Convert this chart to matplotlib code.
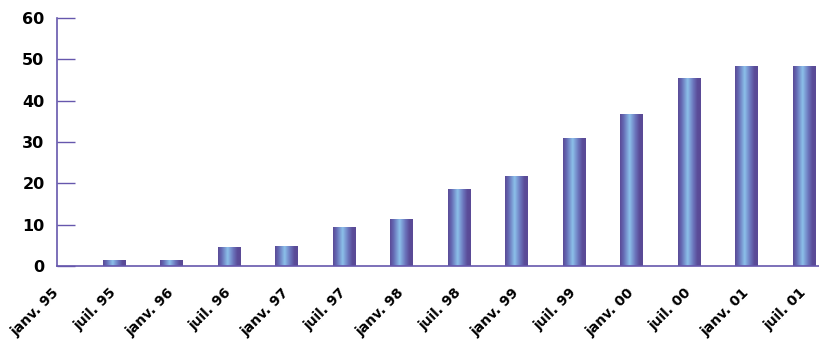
import matplotlib
matplotlib.use("Agg")
import matplotlib.pyplot as plt
import numpy as np
from matplotlib.colors import LinearSegmentedColormap
from matplotlib import transforms

# data
periods = ['janv. 95', 'juil. 95', 'janv. 96', 'juil. 96', 'janv. 97', 'juil. 97',
           'janv. 98', 'juil. 98', 'janv. 99', 'juil. 99', 'janv. 00', 'juil. 00',
           'janv. 01', 'juil. 01']
values = [0, 1.5, 1.5, 4.6, 4.8, 9.4, 11.4, 18.6, 21.8, 31.0, 36.8, 45.5, 48.4, 48.4]
yticks = [0, 10, 20, 30, 40, 50, 60]

axis_col = '#6657ad'
cmap = LinearSegmentedColormap.from_list(
    'cyl', [(0.0, '#5a4a96'), (0.15, '#6468b2'), (0.42, '#8cc0ea'),
            (0.68, '#6a72ba'), (0.85, '#5a4c98'), (1.0, '#5a4a96')])

fig = plt.figure(figsize=(8.19, 3.39), dpi=100)
ax = fig.add_axes([0.0696, 0.2153, 0.9304, 0.7316])

x = np.arange(len(periods))
bars = ax.bar(x, values, width=0.4, color='none', edgecolor='none')

grad = np.linspace(0, 1, 256).reshape(1, -1)
for b in bars:
    if b.get_height() <= 0:
        continue
    x0, w, h = b.get_x(), b.get_width(), b.get_height()
    im = ax.imshow(grad, cmap=cmap, aspect='auto', extent=[x0, x0 + w, 0, h],
                   interpolation='bilinear', zorder=2)
    im.set_clip_path(b)

ax.set_xlim(0.12, 13.26)
ax.set_ylim(0, 60)

for s in ['top', 'right']:
    ax.spines[s].set_visible(False)
for s in ['left', 'bottom']:
    ax.spines[s].set_color(axis_col)
    ax.spines[s].set_linewidth(1.2)
    ax.spines[s].set_zorder(3)

ax.set_yticks(yticks)
ax.set_yticklabels([str(v) for v in yticks], fontsize=11.5, fontweight='bold',
                   family='DejaVu Sans')
ax.tick_params(axis='y', direction='in', length=13, width=1, color=axis_col, pad=9)

ax.set_xticks(x)
ax.set_xticklabels(periods, rotation=45, ha='right', fontsize=10, fontweight='bold',
                   family='DejaVu Sans')
ax.tick_params(axis='x', length=0, pad=14)
offset = transforms.ScaledTranslation(5 / 100, 0, fig.dpi_scale_trans)
for lab in ax.get_xticklabels():
    lab.set_transform(lab.get_transform() + offset)

fig.savefig('out.png', dpi=100)
